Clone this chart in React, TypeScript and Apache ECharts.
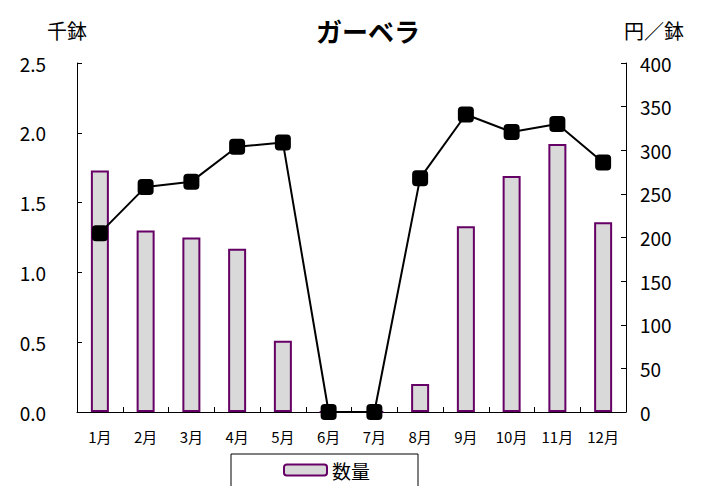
import React, { useEffect, useRef } from "react";
import * as echarts from "echarts";

const months = ["1月", "2月", "3月", "4月", "5月", "6月", "7月", "8月", "9月", "10月", "11月", "12月"];
const quantity = [1.73, 1.3, 1.25, 1.17, 0.51, 0, 0, 0.2, 1.33, 1.69, 1.92, 1.36];
const unitPrice = [205, 258, 264, 304, 309, 0, 0, 268, 341, 321, 330, 286];
const leftTicks = { min: 0, max: 2.5, interval: 0.5 };
const rightTicks = { min: 0, max: 400, interval: 50 };

const FONT = "'Noto Sans CJK JP', 'Noto Sans', sans-serif";

export default function App() {
  const ref = useRef<HTMLDivElement>(null);
  useEffect(() => {
    if (!ref.current) return;
    const chart = echarts.init(ref.current, null, { renderer: "svg" });
    chart.setOption({
      animation: false,
      backgroundColor: "#ffffff",
      textStyle: { fontFamily: FONT, color: "#000" },
      title: {
        text: "ガーベラ",
        left: 363,
        top: 12,
        textAlign: "center",
        textStyle: { fontFamily: FONT, fontSize: 26, fontWeight: "bold", color: "#000" },
      },
      graphic: [
        {
          type: "text",
          left: 47,
          top: 20,
          style: { text: "千鉢", font: `20px ${FONT}`, fill: "#000" },
        },
        {
          type: "text",
          left: 624,
          top: 20,
          style: { text: "円／鉢", font: `20px ${FONT}`, fill: "#000" },
        },
      ],
      legend: {
        show: true,
        data: ["数量"],
        left: 231,
        top: 454,
        padding: [6, 48, 30, 52],
        borderColor: "#000",
        borderWidth: 1,
        itemWidth: 43,
        itemHeight: 11,
        itemGap: 5,
        textStyle: { fontFamily: FONT, fontSize: 19, color: "#000", lineHeight: 20 },
      },
      grid: { left: 77, right: 81, top: 63, bottom: 74, containLabel: false },
      xAxis: {
        type: "category",
        data: months,
        boundaryGap: true,
        axisLine: { show: true, lineStyle: { color: "#000", width: 1 } },
        axisTick: { show: true, inside: true, length: 5, interval: 0, lineStyle: { color: "#000" } },
        axisLabel: { interval: 0, fontFamily: FONT, fontSize: 15, color: "#000", margin: 17 },
        splitLine: { show: false },
      },
      yAxis: [
        {
          type: "value",
          ...leftTicks,
          position: "left",
          axisLine: { show: true, lineStyle: { color: "#000", width: 1 } },
          axisTick: { show: true, inside: true, length: 5, lineStyle: { color: "#000" } },
          axisLabel: {
            fontFamily: FONT,
            fontSize: 19,
            color: "#000",
            margin: 31,
            formatter: (v: number) => v.toFixed(1),
          },
          splitLine: { show: false },
        },
        {
          type: "value",
          ...rightTicks,
          position: "right",
          axisLine: { show: true, lineStyle: { color: "#000", width: 1 } },
          axisTick: { show: true, inside: true, length: 5, lineStyle: { color: "#000" } },
          axisLabel: { fontFamily: FONT, fontSize: 19, color: "#000", margin: 14 },
          splitLine: { show: false },
        },
      ],
      series: [
        {
          name: "数量",
          type: "bar",
          data: quantity,
          yAxisIndex: 0,
          barWidth: 18,
          itemStyle: { color: "#d9d9d9", borderColor: "#660066", borderWidth: 2 },
        },
        {
          name: "単価",
          type: "line",
          data: unitPrice,
          yAxisIndex: 1,
          symbol: "roundRect",
          symbolSize: 16,
          lineStyle: { color: "#000", width: 2 },
          itemStyle: { color: "#000" },
          z: 5,
        },
      ],
    });
    return () => chart.dispose();
  }, []);
  return <div ref={ref} style={{ width: 707, height: 486, position: "absolute", left: 0, top: 0 }} />;
}
